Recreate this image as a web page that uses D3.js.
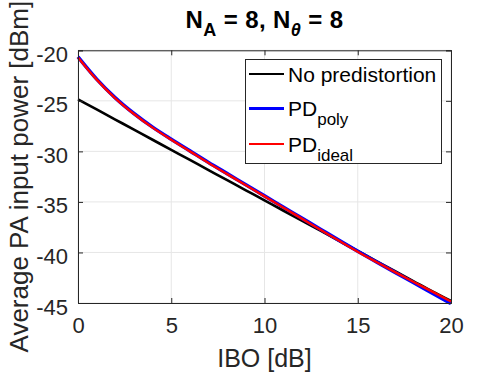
<!DOCTYPE html>
<html><head><meta charset="utf-8">
<script src="https://cdn.jsdelivr.net/npm/d3@7"></script>
<style>body{margin:0;background:#fff}svg{display:block;font-family:"Liberation Sans",Arial,Helvetica,sans-serif}</style>
</head><body>
<svg id="c" width="498" height="374"></svg>
<script>
const ibo = [0,1,2,3,4,5,6,7,8,9,10,11,12,13,14,15,16,17,18,19,20];
const noPD = [-24.85,-25.85,-26.85,-27.85,-28.85,-29.85,-30.85,-31.85,-32.85,-33.85,-34.85,-35.85,-36.85,-37.85,-38.85,-39.85,-40.85,-41.85,-42.85,-43.85,-44.8];
const pdPoly = [-20.65,-22.85,-24.7,-26.25,-27.6,-28.8,-29.95,-31.1,-32.2,-33.3,-34.4,-35.5,-36.6,-37.7,-38.8,-39.88,-40.93,-41.97,-43.0,-44.03,-45.05];
const pdIdeal = [-20.7,-22.9,-24.75,-26.3,-27.65,-28.85,-30.0,-31.15,-32.25,-33.35,-34.45,-35.55,-36.65,-37.75,-38.85,-39.93,-40.95,-41.95,-42.92,-43.88,-44.85];
const xTicks = [0,5,10,15,20];
const yTicks = [-45,-40,-35,-30,-25,-20];

const svg = d3.select("#c");
const L=78,R=451,T=50.3,B=303;
const x = d3.scaleLinear().domain([0,20]).range([L,R]);
const y = d3.scaleLinear().domain([-45,-20]).range([B,T]);
const axC="#262626";

// grid
svg.append("g").selectAll("line").data(xTicks).join("line")
  .attr("x1",d=>x(d)).attr("x2",d=>x(d)).attr("y1",T).attr("y2",B)
  .attr("stroke","#e6e6e6").attr("stroke-width",1);
svg.append("g").selectAll("line").data(yTicks).join("line")
  .attr("y1",d=>y(d)).attr("y2",d=>y(d)).attr("x1",L).attr("x2",R)
  .attr("stroke","#e6e6e6").attr("stroke-width",1);

// lines
const ln = d3.line().x((d,i)=>x(ibo[i])).y(d=>y(d)).curve(d3.curveMonotoneX);
svg.append("path").datum(noPD).attr("d",ln).attr("fill","none").attr("stroke","#000").attr("stroke-width",2.6);
svg.append("path").datum(pdPoly).attr("d",ln).attr("fill","none").attr("stroke","#0000ff").attr("stroke-width",3.6);
svg.append("path").datum(pdIdeal).attr("d",ln).attr("fill","none").attr("stroke","#ff0000").attr("stroke-width",2.4);

// axes
const fs=22;
const gx = svg.append("g").attr("transform",`translate(0,${B})`)
  .call(d3.axisBottom(x).tickValues(xTicks).tickSize(-5).tickPadding(14));
const gy = svg.append("g").attr("transform",`translate(${L},0)`)
  .call(d3.axisLeft(y).tickValues(yTicks).tickSize(-5).tickPadding(10).tickFormat(d=>d));
const gx2 = svg.append("g").attr("transform",`translate(0,${T})`)
  .call(d3.axisTop(x).tickValues(xTicks).tickSize(-5).tickFormat(""));
const gy2 = svg.append("g").attr("transform",`translate(${R},0)`)
  .call(d3.axisRight(y).tickValues(yTicks).tickSize(-5).tickFormat(""));
[gx,gy,gx2,gy2].forEach(g=>{
  g.select(".domain").attr("stroke",axC).attr("stroke-width",1);
  g.selectAll(".tick line").attr("stroke",axC);
  g.selectAll("text").attr("fill",axC).style("font-size",fs+"px").style("font-family","'Liberation Sans',Arial,sans-serif");
});
gx.selectAll("text").attr("dy","0.71em");
gy.selectAll("text").attr("dy","0.5em");

// axis labels
svg.append("text").attr("x",(L+R)/2).attr("y",367).attr("text-anchor","middle")
  .attr("fill",axC).style("font-size","25px").text("IBO [dB]");
svg.append("text").attr("transform",`translate(28,${(T+B)/2}) rotate(-90)`).attr("text-anchor","middle")
  .attr("fill",axC).style("font-size","26px").text("Average PA input power [dBm]");

// title
const tt = svg.append("text").attr("x",(L+R)/2).attr("y",28).attr("text-anchor","middle")
  .attr("fill","#000").style("font-size","24px").style("font-weight","bold").style("letter-spacing","0.4px");
tt.append("tspan").text("N");
tt.append("tspan").attr("dy",8).style("font-size","18px").text("A");
tt.append("tspan").attr("dy",-8).text(" = 8, N");
tt.append("tspan").attr("dy",8).style("font-size","18px").style("font-style","italic").text("θ");
tt.append("tspan").attr("dy",-8).text(" = 8");

// legend
const legNames = ["No predistortion","PD","PD"];
const legSubs = ["","poly","ideal"];
const legColors = ["#000","#0000ff","#ff0000"];
const legWidths = [2,3.2,2];
const lg = svg.append("g");
lg.append("rect").attr("x",245.5).attr("y",59.5).attr("width",196).attr("height",104)
  .attr("fill","#fff").attr("stroke",axC).attr("stroke-width",1);
const rowY=[74,108.5,144];
legNames.forEach((n,i)=>{
  lg.append("line").attr("x1",249).attr("x2",284).attr("y1",rowY[i]).attr("y2",rowY[i])
    .attr("stroke",legColors[i]).attr("stroke-width",legWidths[i]);
  const t = lg.append("text").attr("x",288).attr("y",rowY[i]+7.5).attr("fill","#000").style("font-size","21px");
  t.append("tspan").text(n);
  if(legSubs[i]) t.append("tspan").attr("dy",9).style("font-size","17px").text(legSubs[i]);
});
</script>
</body></html>
